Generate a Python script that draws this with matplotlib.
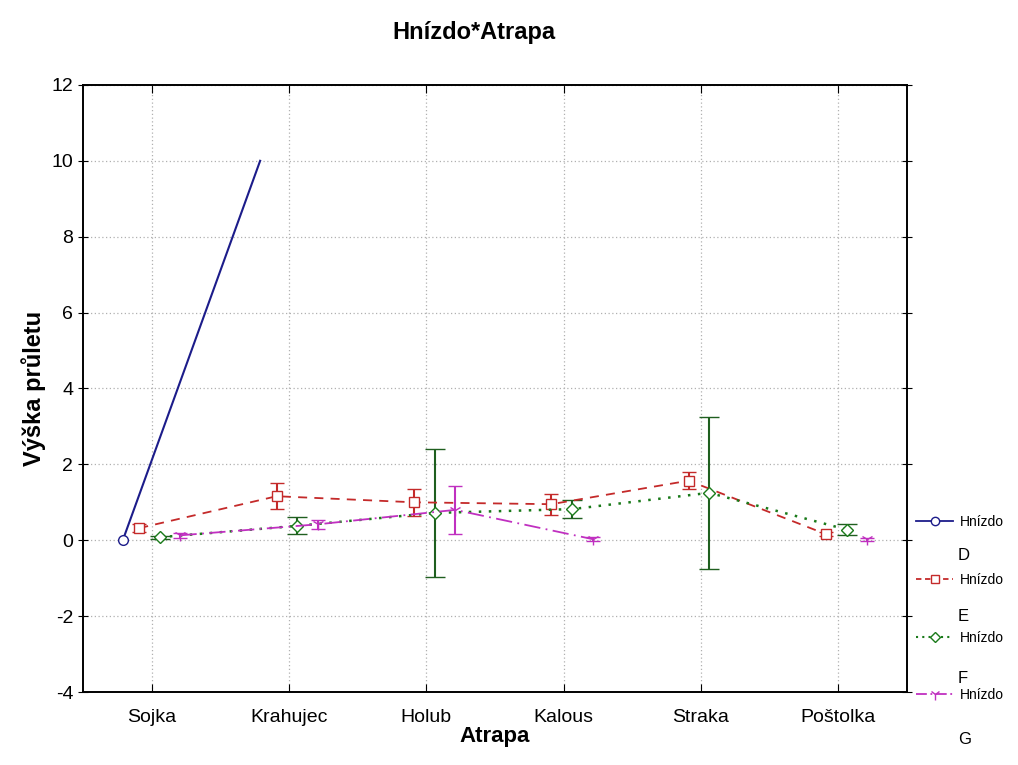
import numpy as np
import matplotlib
matplotlib.use("Agg")
import matplotlib.pyplot as plt
from matplotlib.lines import Line2D

plt.rcParams['font.family'] = ['Liberation Sans', 'DejaVu Sans']
plt.rcParams['axes.unicode_minus'] = False

# Data
atrapa = ["Sojka", "Krahujec", "Holub", "Kalous", "Straka", "Poštolka"]
nan = np.nan
hnizdo_D = [0.0, 10.0, nan, nan, nan, nan]
hnizdo_E = [0.32, 1.16, 1.0, 0.95, 1.57, 0.16]
hnizdo_E_err = [0.1, 0.34, 0.36, 0.28, 0.22, 0.05]
hnizdo_F = [0.08, 0.38, 0.72, 0.82, 1.25, 0.28]
hnizdo_F_err = [0.04, 0.22, 1.68, 0.24, 2.0, 0.15]
hnizdo_G = [0.13, 0.42, 0.8, 0.03, nan, 0.02]
hnizdo_G_err = [0.06, 0.12, 0.64, 0.05, nan, 0.05]

x = np.arange(len(atrapa))

fig = plt.figure(figsize=(10.18, 7.65), dpi=100)
ax = fig.add_axes([0.0815, 0.0954, 0.8095, 0.7936])

# Hnizdo D
ax.plot(x - 0.21, hnizdo_D, color="#1c1c8a", lw=1.5, marker="o", ms=7,
        mfc="white", mec="#1c1c8a", markevery=[0])
# Hnizdo E
ax.errorbar(x - 0.09, hnizdo_E, yerr=hnizdo_E_err, color="#c42a2a", ls=(0, (5, 4)),
            lw=1.3, marker="s", ms=7, mfc="white", mec="#c42a2a",
            capsize=5, elinewidth=1.5, ecolor="#c42a2a")
# Hnizdo F
ax.errorbar(x + 0.06, hnizdo_F, yerr=hnizdo_F_err, color="#1a7a1a", ls=(0, (1, 3)),
            lw=1.8, marker="D", ms=6, mfc="white", mec="#1a7a1a",
            capsize=7, elinewidth=1.5, ecolor="#1f5f1f")
# Hnizdo G
ax.errorbar(x + 0.21, hnizdo_G, yerr=hnizdo_G_err, color="#c030c0", ls=(0, (9, 3, 1, 3)),
            lw=1.3, marker="1", ms=9, mec="#c030c0",
            capsize=5, elinewidth=1.5, ecolor="#c030c0")

ax.set_xlim(-0.5, 5.5)
ax.set_ylim(-4, 12)
ax.set_yticks(np.arange(-4, 13, 2))
ax.set_xticks(x)
ax.set_xticklabels(atrapa, fontsize=14)
ax.tick_params(axis="y", labelsize=14, direction="inout", length=7, right=True)
ax.tick_params(axis="x", direction="in", length=6, top=True, pad=12)
ax.grid(True, color="#b0b0b0", ls=(0, (1, 2)), lw=0.9)
for s in ax.spines.values():
    s.set_linewidth(1.4)

fig.text(0.466, 0.958, "Hnízdo*Atrapa", ha="center", va="center",
         fontsize=17, fontweight="bold")
ax.set_xlabel("Atrapa", fontsize=16, fontweight="bold", labelpad=0)
ax.set_ylabel("Výška průletu", fontsize=17, fontweight="bold", labelpad=4)

# legend on the right
handles = [
    Line2D([], [], color="#1c1c8a", lw=1.3, marker="o", ms=6, mfc="white"),
    Line2D([], [], color="#c42a2a", lw=1.3, ls=(0, (3, 2)), marker="s", ms=6, mfc="white"),
    Line2D([], [], color="#1a7a1a", lw=1.5, ls=(0, (1, 2)), marker="D", ms=5, mfc="white"),
    Line2D([], [], color="#c030c0", lw=1.3, ls=(0, (6, 2, 1, 2)), marker="1", ms=8),
]
leg = fig.legend(handles, ["Hnízdo"] * 4, loc="upper left",
                 bbox_to_anchor=(0.888, 0.343), frameon=False,
                 prop={"size": 10}, labelspacing=3.15,
                 handlelength=2.6, handletextpad=0.5)
for i, g in enumerate(["D", "E", "F", "G"]):
    fig.text(0.941, 0.2745 - i * 0.0805, g, fontsize=12, va="center")

fig.savefig("out.png", dpi=100)
